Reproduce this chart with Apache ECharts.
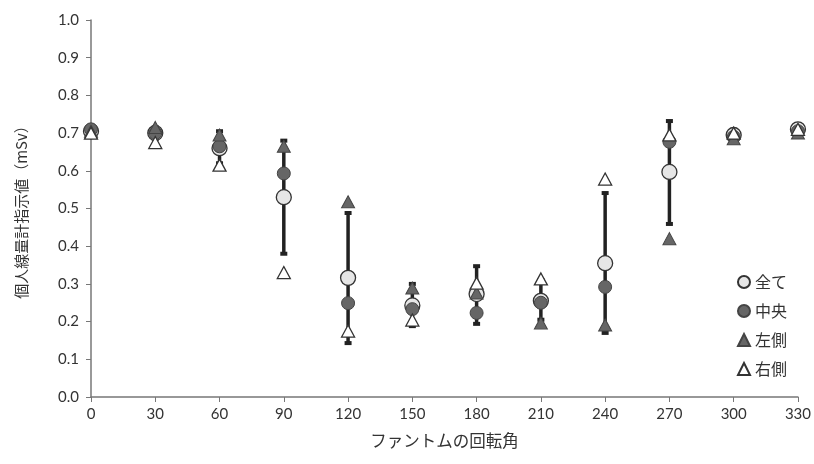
<!DOCTYPE html>
<html><head><meta charset="utf-8">
<script src="https://cdn.jsdelivr.net/npm/echarts@6/dist/echarts.min.js"></script>
<style>html,body{margin:0;padding:0;background:#fff}#c{width:814px;height:464px}</style>
</head><body><div id="c"></div>
<script>
const angles = [0,30,60,90,120,150,180,210,240,270,300,330];
const allVals = [0.705,0.70,0.66,0.53,0.316,0.243,0.273,0.255,0.355,0.597,0.695,0.71];
const centerVals = [0.71,0.70,0.665,0.593,0.249,0.233,0.223,0.25,0.292,0.677,0.69,0.705];
const leftVals = [0.705,0.715,0.695,0.665,0.518,0.289,0.276,0.196,0.191,0.42,0.685,0.70];
const rightVals = [0.70,0.675,0.615,0.33,0.175,0.204,0.302,0.313,0.578,0.695,0.70,0.71];
const errLow = [0.70,0.685,0.62,0.38,0.143,0.188,0.194,0.205,0.17,0.459,0.685,0.70];
const errHigh = [0.71,0.715,0.705,0.68,0.488,0.30,0.347,0.31,0.541,0.732,0.705,0.715];
const seriesNames = ['全て','中央','左側','右側'];
const xTitle = 'ファントムの回転角';
const yTitle = '個人線量計指示値（mSv）';

const font = 'Lato, "Noto Sans CJK JP", sans-serif';
const jfont = '"Noto Sans CJK JP", sans-serif';
const pts = v => angles.map((a,i)=>[a,v[i]]);
const chart = echarts.init(document.getElementById('c'));
chart.setOption({
  animation:false,
  grid:{left:91,right:14,top:20,bottom:67},
  legend:{
    orient:'vertical', right:22, top:269, itemGap:13, itemWidth:12, itemHeight:12,
    textStyle:{fontFamily:jfont,fontSize:16,color:'#333'},
    data:seriesNames
  },
  xAxis:{
    type:'value', min:0, max:330, interval:30,
    name:xTitle, nameLocation:'middle', nameGap:35,
    nameTextStyle:{fontFamily:jfont,fontSize:16.5,color:'#333'},
    axisLine:{lineStyle:{color:'#777',width:1.5}},
    axisTick:{show:true,length:5,lineStyle:{color:'#777'}},
    axisLabel:{fontFamily:font,fontSize:15,color:'#333',margin:10},
    splitLine:{show:false}
  },
  yAxis:{
    type:'value', min:0, max:1, interval:0.1,
    name:yTitle, nameLocation:'middle', nameGap:62, nameRotate:90,
    nameTextStyle:{fontFamily:jfont,fontSize:15,color:'#333'},
    axisLine:{show:true,lineStyle:{color:'#777',width:1.5}},
    axisTick:{show:true,length:5,lineStyle:{color:'#777'}},
    axisLabel:{fontFamily:font,fontSize:15,color:'#333',margin:12,formatter:v=>v.toFixed(1)},
    splitLine:{show:false}
  },
  series:[
    {
      type:'custom', name:'err', silent:true, z:1,
      data: angles.map((a,i)=>[a,errLow[i],errHigh[i]]),
      renderItem:(params,api)=>{
        const p1=api.coord([api.value(0),api.value(1)]);
        const p2=api.coord([api.value(0),api.value(2)]);
        const st={fill:'#222'};
        return {type:'group',children:[
          {type:'rect',shape:{x:p1[0]-1.75,y:p2[1],width:3.5,height:p1[1]-p2[1]},style:st},
          {type:'rect',shape:{x:p1[0]-3.5,y:p1[1]-2,width:7,height:4},style:st},
          {type:'rect',shape:{x:p2[0]-3.5,y:p2[1]-2,width:7,height:4},style:st}
        ]};
      }
    },
    {type:'scatter',name:seriesNames[0],data:pts(allVals),symbol:'circle',symbolSize:15,z:2,
      itemStyle:{color:'#e6e6e6',borderColor:'#333',borderWidth:1.3,opacity:1}},
    {type:'scatter',name:seriesNames[1],data:pts(centerVals),symbol:'circle',symbolSize:13,z:3,
      itemStyle:{color:'#666',borderColor:'#444',borderWidth:1,opacity:1}},
    {type:'scatter',name:seriesNames[2],data:pts(leftVals),symbol:'triangle',symbolSize:[13,12],z:4,
      itemStyle:{color:'#666',borderColor:'#444',borderWidth:1,opacity:1}},
    {type:'scatter',name:seriesNames[3],data:pts(rightVals),symbol:'triangle',symbolSize:[13,12],z:5,
      itemStyle:{color:'#fff',borderColor:'#333',borderWidth:1.3,opacity:1}}
  ]
});
</script></body></html>
